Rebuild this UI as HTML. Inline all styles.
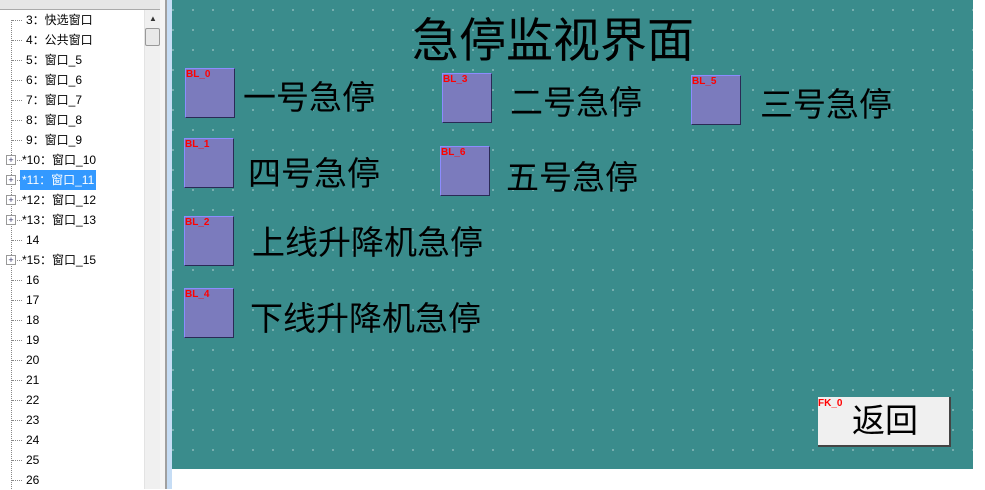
<!DOCTYPE html>
<html><head><meta charset="utf-8"><style>
body{margin:0;width:985px;height:489px;position:relative;overflow:hidden;background:#fff;font-family:"Liberation Sans","Noto Sans CJK SC",sans-serif}
.a{position:absolute}
.tree{left:0;top:0;width:144px;height:489px;background:#fff}
.row{position:absolute;left:0;height:20px;font-size:12px;line-height:20px;color:#000;white-space:nowrap}
.row .h{position:absolute;left:12px;top:10px;width:10px;border-top:1px dotted #888}
.row .t{position:absolute;left:26px;top:0}
.pb{position:absolute;left:6px;top:5px;width:8px;height:8px;border:1px solid #999;background:#fff;font-size:9px;line-height:8px;text-align:center;color:#336}
.panel{left:172px;top:0;width:801px;height:469px;background-color:#3a8c8c;
background-image:radial-gradient(circle,#fff 0.7px,transparent 0.8px);background-size:20px 20px;background-position:11px 0px}
.bl{position:absolute;width:48px;height:48px;background:#7b7bbd;border-top:1px solid #8c8cff;border-left:1px solid #8c8cff;border-right:1px solid #2a2a55;border-bottom:1px solid #2a2a55}
.bl span{position:absolute;left:0;top:1px;font-size:10px;font-weight:bold;color:#f00;line-height:10px}
.tx{position:absolute;font-size:33px;line-height:36px;color:#000;white-space:nowrap}
</style></head><body>
<div class="a tree">
<div class="a" style="left:0;top:0;width:160px;height:9px;background:#e6e6e6;border-bottom:1px solid #aaa"></div>
<div class="a" style="left:11px;top:20px;height:469px;border-left:1px dotted #888"></div>
<div class="row" style="top:10px;width:140px"><div class="h"></div><div class="t">3：快选窗口</div></div>
<div class="row" style="top:30px"><div class="h"></div><div class="t">4：公共窗口</div></div>
<div class="row" style="top:50px"><div class="h"></div><div class="t">5：窗口_5</div></div>
<div class="row" style="top:70px"><div class="h"></div><div class="t">6：窗口_6</div></div>
<div class="row" style="top:90px"><div class="h"></div><div class="t">7：窗口_7</div></div>
<div class="row" style="top:110px"><div class="h"></div><div class="t">8：窗口_8</div></div>
<div class="row" style="top:130px"><div class="h"></div><div class="t">9：窗口_9</div></div>
<div class="row" style="top:150px"><div class="h"></div><div class="pb">+</div><div class="t" style="left:22px">*10：窗口_10</div></div>
<div class="row" style="top:170px"><div class="h"></div><div class="pb">+</div><div class="t" style="left:20px;background:#3399ff;color:#fff;padding:0 2px;height:20px">*11：窗口_11</div></div>
<div class="row" style="top:190px"><div class="h"></div><div class="pb">+</div><div class="t" style="left:22px">*12：窗口_12</div></div>
<div class="row" style="top:210px"><div class="h"></div><div class="pb">+</div><div class="t" style="left:22px">*13：窗口_13</div></div>
<div class="row" style="top:230px"><div class="h"></div><div class="t">14</div></div>
<div class="row" style="top:250px"><div class="h"></div><div class="pb">+</div><div class="t" style="left:22px">*15：窗口_15</div></div>
<div class="row" style="top:270px"><div class="h"></div><div class="t">16</div></div>
<div class="row" style="top:290px"><div class="h"></div><div class="t">17</div></div>
<div class="row" style="top:310px"><div class="h"></div><div class="t">18</div></div>
<div class="row" style="top:330px"><div class="h"></div><div class="t">19</div></div>
<div class="row" style="top:350px"><div class="h"></div><div class="t">20</div></div>
<div class="row" style="top:370px"><div class="h"></div><div class="t">21</div></div>
<div class="row" style="top:390px"><div class="h"></div><div class="t">22</div></div>
<div class="row" style="top:410px"><div class="h"></div><div class="t">23</div></div>
<div class="row" style="top:430px"><div class="h"></div><div class="t">24</div></div>
<div class="row" style="top:450px"><div class="h"></div><div class="t">25</div></div>
<div class="row" style="top:470px"><div class="h"></div><div class="t">26</div></div>
</div>
<div class="a" style="left:144px;top:10px;width:16px;height:479px;background:#f0f0f0;border-left:1px solid #e3e3e3"></div>
<div class="a" style="left:149px;top:14px;font-size:8px;color:#333">▲</div>
<div class="a" style="left:145px;top:28px;width:13px;height:16px;background:#e8e8e8;border:1px solid #999;border-radius:2px"></div>
<div class="a" style="left:160px;top:0;width:5px;height:489px;background:#f4f4f4"></div>
<div class="a" style="left:165px;top:0;width:2px;height:489px;background:#a0a0a0"></div>
<div class="a" style="left:167px;top:0;width:5px;height:489px;background:#c6ddf5"></div>
<div class="a panel"></div>
<div class="tx" style="left:412px;top:18px;font-size:47px;line-height:46px">急停监视界面</div>
<div class="bl" style="left:185px;top:68px"><span>BL_0</span></div>
<div class="tx" style="left:243px;top:80px">一号急停</div>
<div class="bl" style="left:442px;top:73px"><span>BL_3</span></div>
<div class="tx" style="left:510px;top:85px">二号急停</div>
<div class="bl" style="left:691px;top:75px"><span>BL_5</span></div>
<div class="tx" style="left:760px;top:87px">三号急停</div>
<div class="bl" style="left:184px;top:138px"><span>BL_1</span></div>
<div class="tx" style="left:248px;top:156px">四号急停</div>
<div class="bl" style="left:440px;top:146px"><span>BL_6</span></div>
<div class="tx" style="left:506px;top:160px">五号急停</div>
<div class="bl" style="left:184px;top:216px"><span>BL_2</span></div>
<div class="tx" style="left:252px;top:225px">上线升降机急停</div>
<div class="bl" style="left:184px;top:288px"><span>BL_4</span></div>
<div class="tx" style="left:250px;top:301px">下线升降机急停</div>
<div class="a" style="left:818px;top:397px;width:131px;height:48px;background:#f0f0f0;border-right:2px solid #444;border-bottom:2px solid #444"></div>
<div class="a" style="left:818px;top:399px;font-size:10px;font-weight:bold;color:#f00;line-height:10px">FK_0</div>
<div class="tx" style="left:852px;top:403px">返回</div>
</body></html>
